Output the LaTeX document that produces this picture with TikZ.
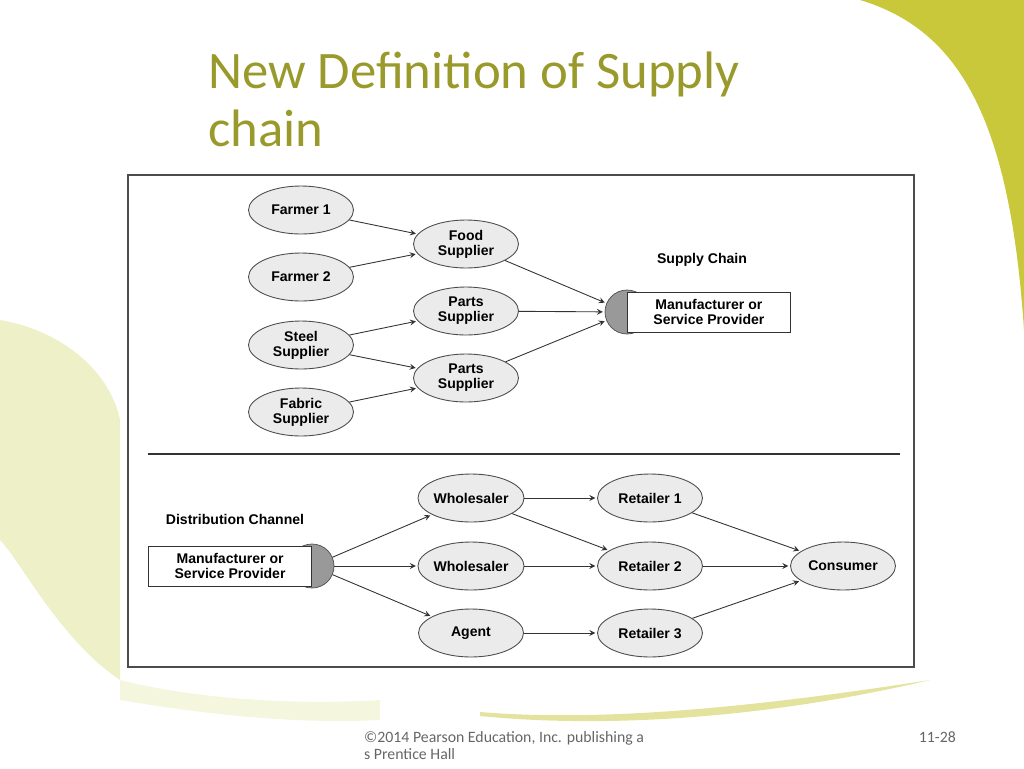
\documentclass[tikz,border=0pt]{standalone}
\usepackage{fontspec}
\setmainfont{Carlito}
\newfontfamily\diagfont{Liberation Sans}
\usetikzlibrary{shapes.geometric}
\definecolor{olive}{HTML}{9A9A2C}
\definecolor{lime}{HTML}{C8C83A}
\definecolor{palelime}{HTML}{EEF0C8}
\tikzset{
  stage/.style={ellipse, draw=black!70, fill=black!8, minimum width=21mm, minimum height=9.6mm, inner sep=0pt, align=center, font=\diagfont\bfseries\fontsize{8}{8.5}\selectfont, line width=.5pt},
  firm/.style={rectangle, draw=black!80, fill=white, minimum width=32.6mm, minimum height=8mm, align=center, font=\diagfont\bfseries\fontsize{8}{8.5}\selectfont, line width=.5pt},
  knob/.style={circle, draw=black!70, fill=black!40, minimum size=8.8mm, inner sep=0pt},
  flow/.style={-stealth, black!80, line width=.5pt, shorten >=1pt}
}
\begin{document}
\begin{tikzpicture}[x=0.02cm,y=-0.02cm]
  \useasboundingbox (0,0) rectangle (1024,768);
  % background swirls
  \fill[lime] (860,0) .. controls (960,30) and (1010,120) .. (1024,330) -- (1024,0) -- cycle;
  \fill[palelime] (0,320) .. controls (60,330) and (110,370) .. (120,420) -- (120,680) .. controls (60,640) and (20,560) .. (0,540) -- cycle;
  \fill[palelime!60] (120,680) .. controls (200,700) and (300,705) .. (380,700) -- (380,720) .. controls (280,725) and (180,710) .. (120,700) -- cycle;
  \fill[lime!50] (480,712) .. controls (600,722) and (750,708) .. (930,680) .. controls (760,720) and (600,728) .. (480,716) -- cycle;
  % title
  \node[anchor=north west, align=left, text=olive, font=\fontsize{30}{33}\selectfont] (title) at (202,46) {New Definition of Supply\\chain};
  % frame
  \draw[black!70, fill=white, line width=.8pt] (128,175) rectangle (914,667);
  \draw[black!80, line width=.6pt] (148,454) -- (900,454);

  % supply side
  \node[stage] (f1) at (301,210) {Farmer 1};
  \node[stage] (f2) at (301,277) {Farmer 2};
  \node[stage] (st) at (301,345) {Steel\\Supplier};
  \node[stage] (fa) at (301,412) {Fabric\\Supplier};
  \node[stage] (fo) at (466,244) {Food\\Supplier};
  \node[stage] (p1) at (466,311) {Parts\\Supplier};
  \node[stage] (p2) at (466,378) {Parts\\Supplier};
  \node[knob] (kA) at (627,312) {};
  \node[firm, anchor=west] (mA) at (627,312) {Manufacturer or\\Service Provider};
  \node[font=\diagfont\bfseries\fontsize{8}{8.5}\selectfont] (sc) at (702,260) {Supply Chain};

  \draw[flow] (f1) -- (fo);
  \draw[flow] (f2) -- (fo);
  \draw[flow] (st) -- (p1);
  \draw[flow] (st) -- (p2);
  \draw[flow] (fa) -- (p2);
  \draw[flow] (fo) -- (kA);
  \draw[flow] (p1) -- (kA);
  \draw[flow] (p2) -- (kA);

  % distribution side
  \node[font=\diagfont\bfseries\fontsize{8}{8.5}\selectfont] (dc) at (235,519) {Distribution Channel};
  \node[knob] (kB) at (312,566) {};
  \node[firm, anchor=east] (mB) at (312,566) {Manufacturer or\\Service Provider};
  \node[stage] (w1) at (471,498) {Wholesaler};
  \node[stage] (w2) at (471,566) {Wholesaler};
  \node[stage] (ag) at (471,633) {Agent};
  \node[stage] (r1) at (650,498) {Retailer 1};
  \node[stage] (r2) at (650,566) {Retailer 2};
  \node[stage] (r3) at (650,633) {Retailer 3};
  \node[stage] (co) at (843,566) {Consumer};

  \draw[flow] (kB) -- (w1);
  \draw[flow] (kB) -- (w2);
  \draw[flow] (kB) -- (ag);
  \draw[flow] (w1) -- (r1);
  \draw[flow] (w1) -- (r2);
  \draw[flow] (w2) -- (r2);
  \draw[flow] (ag) -- (r3);
  \draw[flow] (r1) -- (co);
  \draw[flow] (r2) -- (co);
  \draw[flow] (r3) -- (co);

  % footer
  \node[anchor=north west, align=left, text=black!60, font=\fontsize{9}{10}\selectfont] (foot) at (358,725) {©2014 Pearson Education, Inc. publishing a\\s Prentice Hall};
  \node[anchor=north east, text=black!60, font=\fontsize{9}{10}\selectfont] (page) at (962,725) {11-28};
\end{tikzpicture}
\end{document}
